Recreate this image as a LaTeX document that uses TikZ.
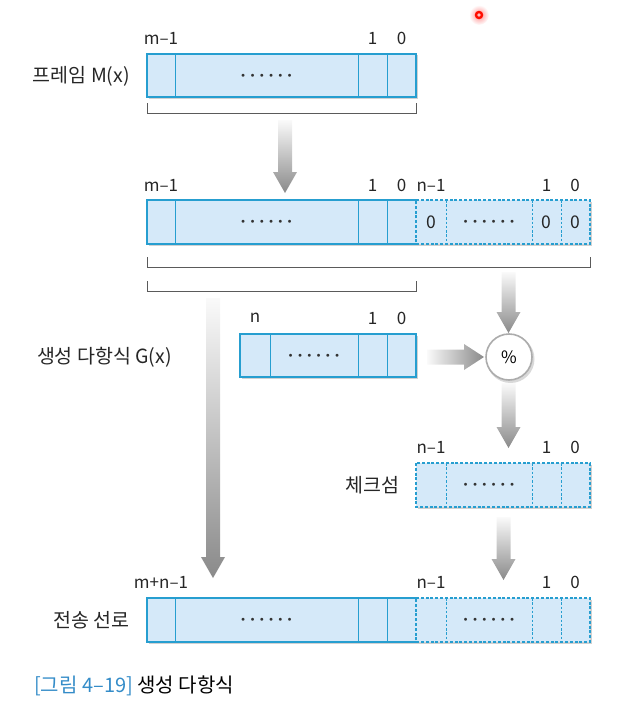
\documentclass[tikz,border=0pt]{standalone}
\usepackage{fontspec}
\setmainfont{Noto Sans CJK KR}
\usetikzlibrary{calc}
\definecolor{cellfill}{RGB}{213,233,249}
\definecolor{bord}{RGB}{38,158,208}
\definecolor{capblue}{RGB}{52,140,200}
\definecolor{brk}{RGB}{90,90,90}
\newcommand\onedot{{\fontsize{7}{7}\selectfont$\bullet$}}
\newcommand\dotsix{\mbox{\onedot\hspace{5.2pt}\onedot\hspace{5.2pt}\onedot\hspace{5.2pt}\onedot\hspace{5.2pt}\onedot\hspace{5.2pt}\onedot}}
% vertical gradient arrow: x, y top, y tip
\newcommand\vgarrow[3]{\shade[top color=gray!4, bottom color=gray!92]
  (#1-7,#2) -- (#1+7,#2) -- (#1+7,#3-21) -- (#1+12,#3-21) -- (#1,#3) -- (#1-12,#3-21) -- (#1-7,#3-21) -- cycle;}
% horizontal gradient arrow: y, x left, x tip
\newcommand\hgarrow[3]{\shade[left color=gray!4, right color=gray!92]
  (#2,#1-7.5) -- (#2,#1+7.5) -- (#3-20,#1+7.5) -- (#3-20,#1+13) -- (#3,#1) -- (#3-20,#1-13) -- (#3-20,#1-7.5) -- cycle;}
\begin{document}
\begin{tikzpicture}[x=1pt,y=-1pt,
  num/.style={font=\fontsize{17}{19}\selectfont, inner sep=0pt, text=black!85},
  rowlab/.style={font=\fontsize{19.5}{21}\selectfont, inner sep=0pt, anchor=east, text=black!85},
  cellfill node/.style={fill=cellfill, inner sep=0pt, anchor=north west},
  solidline/.style={draw=bord, line width=1.6pt},
  dashline/.style={draw=bord, line width=1.3pt, dash pattern=on 3pt off 1.8pt},
  soliddiv/.style={draw=bord, line width=0.9pt},
  dashdiv/.style={draw=bord, line width=0.9pt, dash pattern=on 2.5pt off 1.8pt},
  bracketline/.style={draw=brk, line width=0.9pt},
  shadowbox/.style={fill=black!18},
  dotlab/.style={inner sep=0pt, text=black!80},
  zero/.style={font=\fontsize{17.5}{19}\selectfont, inner sep=0pt, text=black!85},
  modnode/.style={circle, draw=gray!65, line width=1.6pt, fill=white, minimum size=46pt, inner sep=0pt, font=\fontsize{17}{19}\selectfont}
]
\useasboundingbox (0,0) rectangle (628,709);

% ---------- red cursor mark ----------
\shade[inner color=red!45, outer color=white] (479,15) circle (10);
\fill[red!90!orange] (479,15) circle (4.3);
\fill[red!25] (479,15) circle (1.8);

% ---------- Row 1 : frame M(x) ----------
\node[num] (r1a) at (161,38) {m–1};
\node[num] (r1b) at (372.5,38) {1};
\node[num] (r1c) at (401.5,38) {0};
\fill[shadowbox] (148.5,55.5) rectangle (417.5,98.5);
\node[cellfill node, minimum width=269pt, minimum height=43pt] (box1) at (147,54) {};
\draw[solidline] (147,54) rectangle (416,97);
\draw[soliddiv] (175,54) -- (175,97) (358,54) -- (358,97) (387,54) -- (387,97);
\node[dotlab] (d1) at (266.5,76) {\dotsix};
\node[rowlab] (lab1) at (130,76) {프레임 M(x)};
\draw[bracketline] (147,103) -- (147,113) -- (416,113) -- (416,103);

% arrow 1
\vgarrow{285}{120}{193}

% ---------- Row 2 : shifted frame ----------
\node[num] (r2a) at (161,185) {m–1};
\node[num] (r2b) at (372.5,185) {1};
\node[num] (r2c) at (401.5,185) {0};
\node[num] (r2d) at (431,185) {n–1};
\node[num] (r2e) at (546.5,185) {1};
\node[num] (r2f) at (575,185) {0};
\fill[shadowbox] (148.5,201.5) rectangle (591.5,245.5);
\node[cellfill node, minimum width=443pt, minimum height=44pt] (box2) at (147,200) {};
\draw[solidline] (416,200) -- (147,200) -- (147,244) -- (416,244);
\draw[soliddiv] (175,200) -- (175,244) (358,200) -- (358,244) (387,200) -- (387,244);
\draw[dashline] (416,200) -- (590,200) -- (590,244) -- (416,244) -- cycle;
\draw[dashdiv] (446,200) -- (446,244) (532,200) -- (532,244) (561,200) -- (561,244);
\node[dotlab] (d2) at (266.5,222) {\dotsix};
\node[zero] (z1) at (431,222) {0};
\node[dotlab] (d3) at (489,222) {\dotsix};
\node[zero] (z2) at (546.5,222) {0};
\node[zero] (z3) at (575.5,222) {0};
\draw[bracketline] (147,257) -- (147,267) -- (590,267) -- (590,257);
\draw[bracketline] (147,281) -- (147,291) -- (416,291) -- (416,281);

% long arrow to transmission line
\vgarrow{213}{298}{578}
% arrow down to modulo
\vgarrow{508.5}{272}{333}

% ---------- Row 3 : generator G(x) ----------
\node[num] (r3a) at (255,318) {n};
\node[num] (r3b) at (372.5,318) {1};
\node[num] (r3c) at (401.5,318) {0};
\fill[shadowbox] (241.5,335.5) rectangle (417.5,378.5);
\node[cellfill node, minimum width=176pt, minimum height=43pt] (box3) at (240,334) {};
\draw[solidline] (240,334) rectangle (416,377);
\draw[soliddiv] (270,334) -- (270,377) (358,334) -- (358,377) (387,334) -- (387,377);
\node[dotlab] (d4) at (314,356) {\dotsix};
\node[rowlab] (lab3) at (172,357) {생성 다항식 G(x)};

\hgarrow{357}{427}{484}
\fill[black!15] (510.5,359) circle (24);
\node[modnode] (mod) at (509,357) {\%};

\vgarrow{508.5}{383}{448}

% ---------- Row 4 : checksum ----------
\node[num] (r4a) at (431,447) {n–1};
\node[num] (r4b) at (546.5,447) {1};
\node[num] (r4c) at (575,447) {0};
\fill[shadowbox] (417.5,464.5) rectangle (591.5,508.5);
\node[cellfill node, minimum width=174pt, minimum height=44pt] (box4) at (416,463) {};
\draw[dashline] (416,463) rectangle (590,507);
\draw[dashdiv] (446,463) -- (446,507) (532,463) -- (532,507) (561,463) -- (561,507);
\node[dotlab] (d5) at (489,485) {\dotsix};
\node[rowlab] (lab4) at (400,485) {체크섬};

\vgarrow{503.5}{517}{580}

% ---------- Row 5 : transmission line ----------
\node[num] (r5a) at (161,582) {m+n–1};
\node[num] (r5b) at (431,582) {n–1};
\node[num] (r5c) at (546.5,582) {1};
\node[num] (r5d) at (575,582) {0};
\fill[shadowbox] (148.5,599.5) rectangle (591.5,643.5);
\node[cellfill node, minimum width=443pt, minimum height=44pt] (box5) at (147,598) {};
\draw[solidline] (416,598) -- (147,598) -- (147,642) -- (416,642);
\draw[soliddiv] (175,598) -- (175,642) (358,598) -- (358,642) (387,598) -- (387,642);
\draw[dashline] (416,598) -- (590,598) -- (590,642) -- (416,642) -- cycle;
\draw[dashdiv] (446,598) -- (446,642) (532,598) -- (532,642) (561,598) -- (561,642);
\node[dotlab] (d6) at (266.5,620) {\dotsix};
\node[dotlab] (d7) at (489,620) {\dotsix};
\node[rowlab] (lab5) at (130,620) {전송 선로};

% ---------- caption ----------
\node[anchor=west, inner sep=0pt, font=\fontsize{20}{22}\selectfont] (cap) at (34,686)
  {\textcolor{capblue}{[그림 4–19]} 생성 다항식};
\end{tikzpicture}
\end{document}
